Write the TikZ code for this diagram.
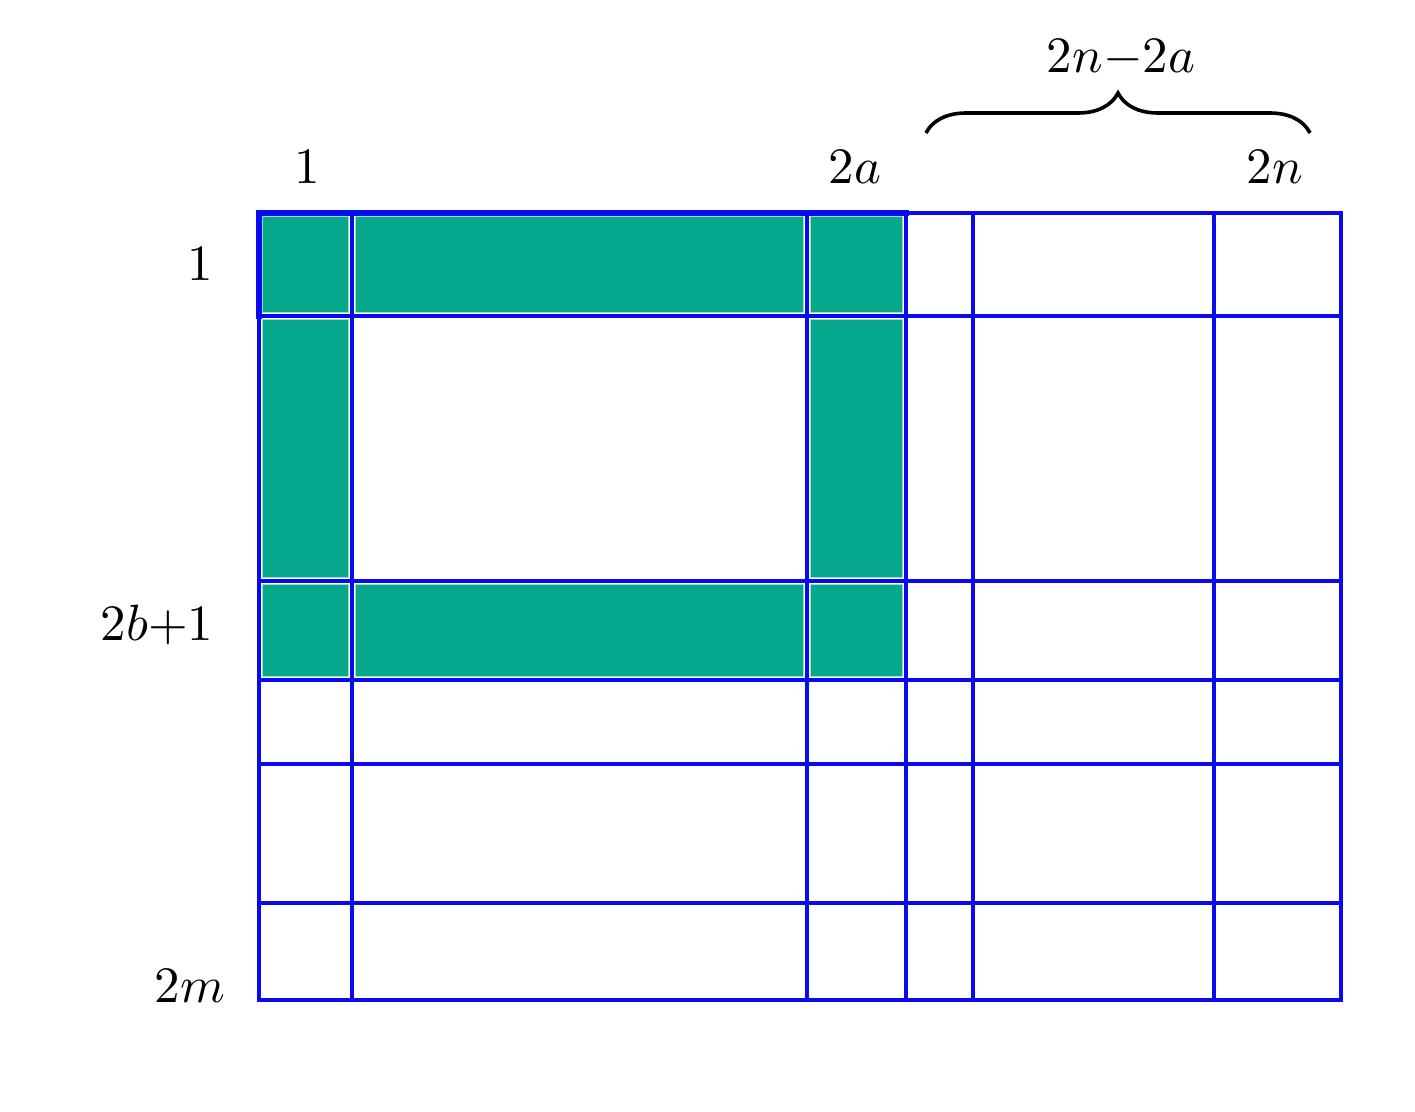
\documentclass[tikz,border=0pt]{standalone}
\usetikzlibrary{decorations.pathreplacing}
\definecolor{cellgreen}{RGB}{6,168,140}
\definecolor{gridblue}{RGB}{10,10,240}
\tikzset{
  gridline/.style={draw=gridblue, line width=4.8pt, line cap=rect},
  greencell/.style={fill=cellgreen, draw=cellgreen!40!white, line width=0.8pt},
  lbl/.style={inner sep=0pt, anchor=base, scale=5.1},
  bracestyle/.style={draw, line width=3.6pt, decorate, decoration={brace, amplitude=40pt}}
}
\begin{document}
\begin{tikzpicture}[x=1pt, y=-1pt]
\useasboundingbox (0,0) rectangle (1415,1111);
\fill[white] (0,0) rectangle (1415,1111);
% green cells (inset)
\foreach \xa/\xb/\ya/\yb in {259/352/213/316, 352/807/213/316, 807/906/213/316,
  259/352/316/581, 807/906/316/581,
  259/352/581/680, 352/807/581/680, 807/906/581/680}{
  \path[greencell] (\xa+3.5,\ya+3.5) rectangle (\xb-3.5,\yb-3.5);
}
% grid lines
\foreach \x in {259,352,807,906,973,1214,1341}{
  \draw[gridline] (\x,213) -- (\x,1000);
}
\foreach \y in {213,316,581,680,764,903,1000}{
  \draw[gridline] (259,\y) -- (1341,\y);
}
\draw[gridblue, line width=6pt, line cap=rect] (259,316) -- (259,213) -- (906,213);
% labels
\node[lbl] (c1) at (307,183) {$1$};
\node[lbl] (c2a) at (855,183) {$2a$};
\node[lbl] (c2n) at (1275,183) {$2n$};
\node[lbl] (r1) at (200,280) {$1$};
\node[lbl] (r2b) at (157,640) {$2b{+}1$};
\node[lbl] (r2m) at (190,1002) {$2m$};
\coordinate (bl) at (926,133);
\coordinate (br) at (1310,133);
\draw[bracestyle] (bl) -- (br);
\node[lbl] (diff) at (1121,72) {$2n{-}2a$};
\end{tikzpicture}
\end{document}
